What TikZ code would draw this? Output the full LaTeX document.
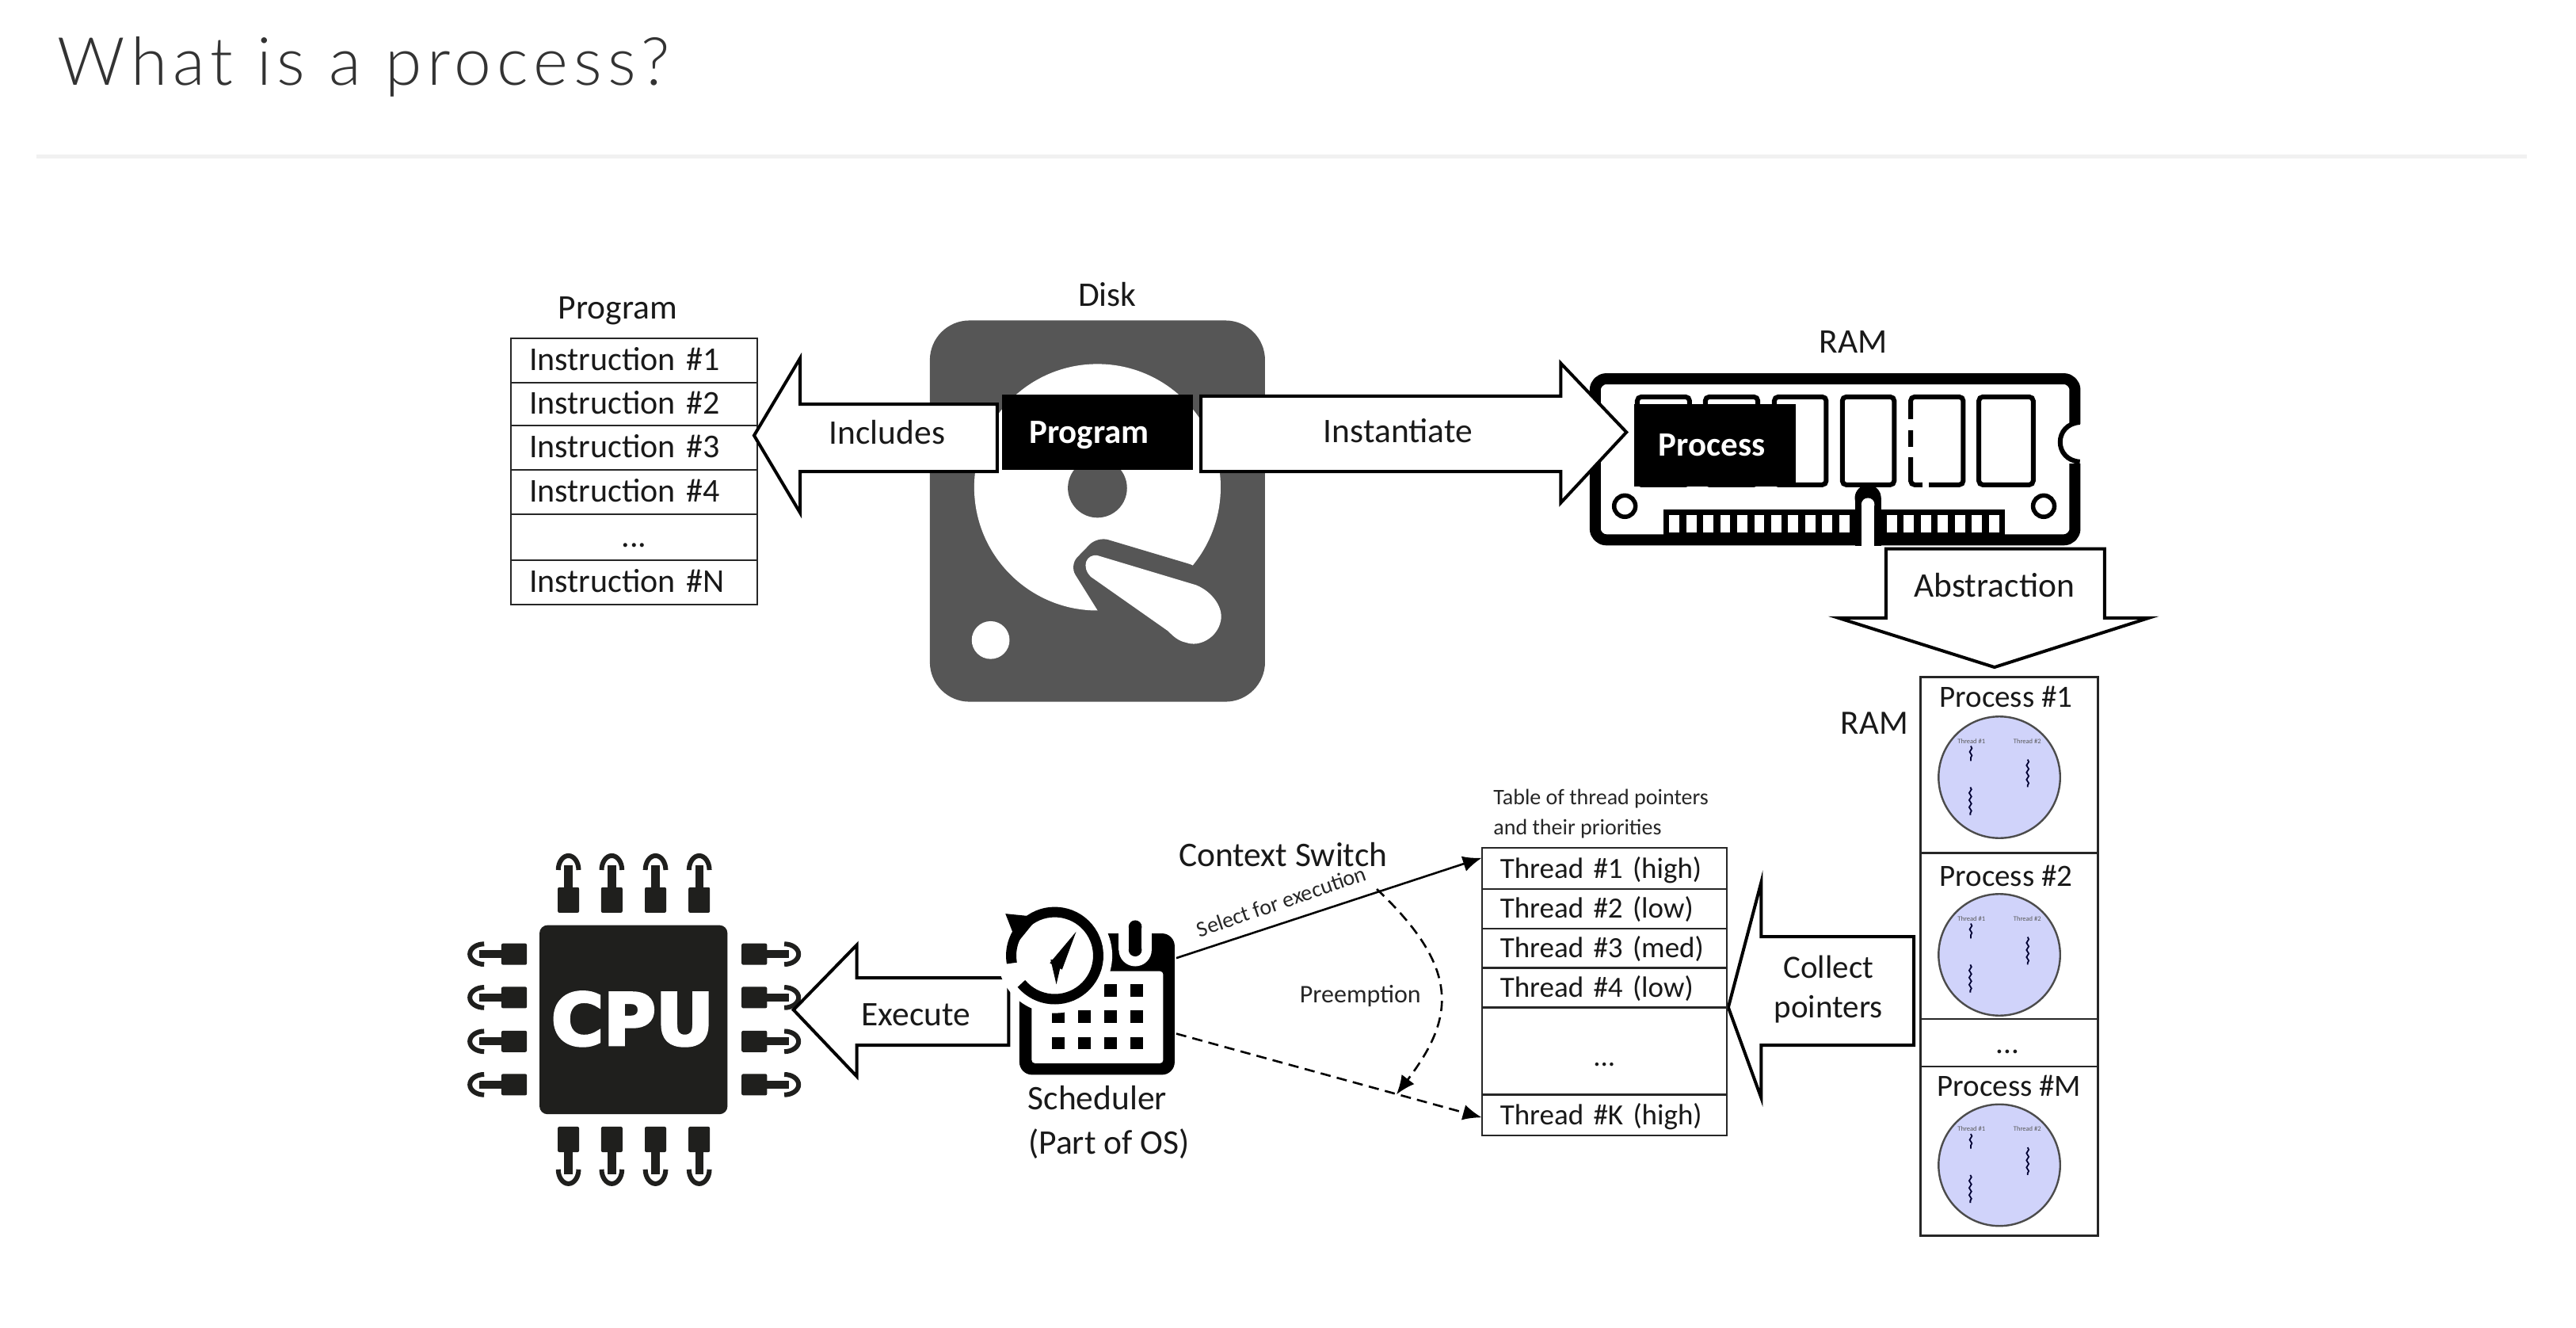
\documentclass[tikz,border=0pt]{standalone}
\usepackage{fontspec}
\usetikzlibrary{arrows.meta,decorations.pathmorphing}
\setmainfont{Carlito}
\newfontfamily\titlefont[LetterSpace=8.4]{Lato Light}
\newfontfamily\cpufont[BoldFeatures={FakeBold=4}]{DejaVu Sans}
\definecolor{diskgrey}{HTML}{565656}
\definecolor{cpub}{HTML}{1F1F1D}
\definecolor{circfill}{HTML}{D0D3FA}
\definecolor{rulegrey}{HTML}{F1F1F1}
\newcommand{\rowbox}[7]{%
  \pgfmathsetmacro{\rw}{(#4-#2)*2.074}\pgfmathsetmacro{\rh}{(#5-#3)*2.074}%
  \pgfmathsetmacro{\rt}{\rw-46}%
  \node[rowstyle,minimum height=\rh pt,text width=\rt pt,font=\fontsize{#7}{44}\selectfont] (#1) at ({(#2+#4)/2},{(#3+#5)/2}) {\mbox{#6}};}
\tikzset{
  x=2.074pt,y=-2.074pt,
  lab/.style={font=\fontsize{43.5}{50}\selectfont,text=black!90,inner sep=0pt},
  plab/.style={font=\fontsize{39}{46}\selectfont,text=black!90,inner sep=0pt},
  rowstyle/.style={draw=black!85,line width=2.4pt,inner xsep=23pt,inner ysep=0pt,outer sep=0pt,align=left,text height=29pt,text depth=5pt,text=black!90},
  blockarrow/.style={draw=black,line width=4pt,fill=white,miter limit=10},
  wlab/.style={font=\fontsize{43}{50}\selectfont\bfseries,text=white,inner sep=0pt},
  tinylab/.style={font=\fontsize{8.5}{9}\selectfont,text=black!65,inner sep=0pt},
  squig/.style={draw=black!80!blue,line width=1.8pt,decorate,decoration={snake,amplitude=1.4pt,segment length=9pt}},
  cpupin/.pic={
    \fill[cpub,rounded corners=2pt] (-6.5,0) rectangle (6.5,-15.5);
    \fill[cpub] (-2.5,-15) rectangle (2.5,-29);
    \draw[cpub,line width=6pt] (-6.2,-26) arc[start angle=180,end angle=360,x radius=6.2,y radius=8.7];
  },
  procring/.pic={
    \draw[black!70,fill=circfill,line width=2.4pt] (0,0) circle[radius=37];
    \node[tinylab] at (-17,-22) {Thread \#1};
    \node[tinylab] at (17,-22) {Thread \#2};
    \draw[squig] (-17.4,-19) -- (-17.4,-10);
    \draw[squig] (17.2,-10.8) -- (17.2,6);
    \draw[squig] (-17.7,6) -- (-17.7,23);
  }
}
\begin{document}
\begin{tikzpicture}
\useasboundingbox (0,0) rectangle (1568,808);
\fill[white] (0,0) rectangle (1568,808);
% title
\node[anchor=base west,inner sep=0pt,font=\fontsize{84}{100}\titlefont,text=black!80] (title) at (35,52) {What is a process?};
\draw[rulegrey,line width=5pt] (22,95) -- (1538,95);

% program table
\node[lab] (proglab) at (376,189) {Program};
\rowbox{i1}{311}{206}{461}{233}{Instruction \#1}{42}
\rowbox{i2}{311}{233}{461}{259}{Instruction \#2}{42}
\rowbox{i3}{311}{259}{461}{286}{Instruction \#3}{42}
\rowbox{i4}{311}{286}{461}{313}{Instruction \#4}{42}
\node[rowstyle,font=\fontsize{42}{44}\selectfont,minimum width=311pt,minimum height=58pt,text width=265pt,align=center] (i5) at (386,327) {...};
\rowbox{i6}{311}{341}{461}{368}{Instruction \#N}{42}

% disk
\node[lab] (disklab) at (674,179) {Disk};
\fill[diskgrey,rounded corners=50pt] (566,195) rectangle (770,427);
\fill[white] (668,296.5) circle[radius=75];
\fill[diskgrey] (668,297) circle[radius=18];
\fill[white] (603,389.5) circle[radius=11.5];
\fill[diskgrey,rounded corners=14pt] (671,376) -- (651,344) -- (668,326.5) -- (730,345) -- (765,400) -- (690,400) -- cycle;
\fill[white] (668,338) -- (728,356) .. controls (738,360) and (745,370) .. (743,378) .. controls (741,388) and (730,394) .. (722,391) .. controls (717,390) and (714,387) .. (711,384) -- (664,351) .. controls (658,345) and (661,337) .. (668,338) -- cycle;

% includes arrow
\draw[blockarrow] (607,246) -- (487,246) -- (487,218) -- (459,265) -- (487,312) -- (487,287) -- (607,287) -- cycle;
\node[lab] (includes) at (540,263) {Includes};
\node[fill=black,minimum width=241pt,minimum height=95pt,inner sep=0pt] (progbox) at (668,263) {};
\node[wlab] at (663,265) {Program};

% RAM module
\node[lab] (ramlab) at (1128,208) {RAM};
\begin{scope}
\draw[black,line width=14pt,rounded corners=14pt,join=round] (971,230.5) -- (1263,230.5) -- (1263,328.5) -- (971,328.5) -- cycle;
\fill[white] (1252,258) rectangle (1272,282);
\draw[black,line width=6pt] (1266,257) .. controls (1250,258) and (1250,280) .. (1266,281);
\foreach \xa/\xb in {996.6/1028.4,1038/1070,1080/1111.6,1121.4/1153,1163/1195,1204.5/1237.6}
  \draw[black,line width=6pt,rounded corners=5pt] (\xa,241.5) rectangle (\xb,295);
\fill[white] (1161,255) rectangle (1165,262);
\fill[white] (1161,272) rectangle (1165,278);
\fill[white] (1170,292) rectangle (1174,298);
\draw[black,line width=5.5pt] (989,308) circle[radius=6.5];
\draw[black,line width=5.5pt] (1244,308) circle[radius=6.5];
\fill[black] (1012.5,310) rectangle (1220.5,331);
\fill[black] (1137,303) circle[radius=8];
\fill[black] (1129,303) rectangle (1145,332);
\foreach \i in {0,...,10} \fill[white] ({1016+\i*10.35},313.5) rectangle ({1022.2+\i*10.35},324);
\foreach \i in {0,...,6} \fill[white] ({1148.5+\i*10.35},313.5) rectangle ({1154.7+\i*10.35},324);
\fill[white] (1133,307) rectangle (1141,336);
\fill[white] (1137,307) circle[radius=4];
\end{scope}
% instantiate arrow
\draw[blockarrow] (731,241) -- (950,241) -- (950,221) -- (990,263) -- (950,306) -- (950,287) -- (731,287) -- cycle;
\node[lab] (inst) at (851,262) {Instantiate};
\node[fill=black,minimum width=204pt,minimum height=104pt,inner sep=0pt] (procbox) at (1044,271) {};
\node[wlab] at (1042,271) {Process};

% abstraction arrow
\draw[blockarrow] (1148,334) -- (1281,334) -- (1281,376) -- (1308,376) -- (1214,406) -- (1119,376) -- (1148,376) -- cycle;
\node[lab] (abstr) at (1214,356) {Abstraction};

% process table
\node[plab,font=\fontsize{43}{50}\selectfont] (ram2) at (1141,440) {RAM};
\node[draw=black!85,line width=2.4pt,minimum width=224pt,minimum height=705pt,inner sep=0pt] (ptab) at (1223,582) {};
\draw[black!85,line width=2.4pt] (1169,519) -- (1277,519);
\draw[black!85,line width=2.4pt] (1169,620) -- (1277,620);
\draw[black!85,line width=2.4pt] (1169,649) -- (1277,649);
\node[plab] at (1221,424) {Process \#1};
\node[plab] at (1221,533) {Process \#2};
\node[plab] at (1222,640) {...};
\node[plab] at (1223,661) {Process \#M};
\pic at (1217,473) {procring};
\pic at (1217,581) {procring};
\pic at (1217,709) {procring};

% collect arrow
\draw[blockarrow] (1165,570) -- (1072,570) -- (1072,537) -- (1052,613) -- (1072,668) -- (1072,636) -- (1165,636) -- cycle;
\node[lab,font=\fontsize{41}{46}\selectfont,align=center] (collect) at (1113,602) {Collect\\[4pt]pointers};

% thread table
\node[anchor=west,align=left,inner sep=0pt,font=\fontsize{28}{38}\selectfont,text=black!85] (ttitle) at (909,495) {Table of thread pointers\\and their priorities};
\rowbox{t1}{902}{516}{1051}{541}{Thread \#1 (high)}{37}
\rowbox{t2}{902}{541}{1051}{565}{Thread \#2 (low)}{37}
\rowbox{t3}{902}{565}{1051}{589}{Thread \#3 (med)}{37}
\rowbox{t4}{902}{589}{1051}{613}{Thread \#4 (low)}{37}
\node[rowstyle,font=\fontsize{37}{44}\selectfont,minimum width=309pt,minimum height=110pt,text width=263pt,align=center] (t5) at (976.5,639.5) {\raisebox{-7pt}{...}};
\rowbox{tk}{902}{666}{1051}{691}{Thread \#K (high)}{37}

% connectors
\coordinate (s1) at (716,583);
\coordinate (s2) at (716,629);
\coordinate (e1) at (902,522);
\coordinate (e2) at (902,680);
\coordinate (p1) at (838,541);
\coordinate (p2) at (850,666);
\draw[black,line width=2.6pt,-{Latex[length=24pt,width=20pt]}] (s1) -- (e1);
\draw[black,line width=2.6pt,dash pattern=on 13pt off 8pt,-{Latex[length=24pt,width=20pt]}] (s2) -- (e2);
\draw[black,line width=2.6pt,dash pattern=on 13pt off 8pt,-{Latex[length=24pt,width=20pt]}] (p1) .. controls (890,590) and (885,620) .. (p2);
\node[lab] (ctx) at (781,520) {Context Switch};
\node[inner sep=0pt,rotate=19,font=\fontsize{28}{30}\selectfont,text=black!85] (sel) at (780,548.5) {Select for execution};
\node[inner sep=0pt,font=\fontsize{32}{34}\selectfont,text=black!85] (pre) at (828,606) {Preemption};

% CPU
\fill[cpub,rounded corners=10pt] (328.4,563) rectangle (442.8,678);
\node[inner sep=0pt,font=\fontsize{90}{90}\cpufont\bfseries,text=white] (cpu) at (385,620) {CPU};
\foreach \x in {346,372.4,399,425.6} {
  \pic at (\x,555.4) {cpupin};
  \pic[rotate=180] at (\x,685.6) {cpupin};
}
\foreach \y in {580.6,607,633.7,660} {
  \pic[rotate=90] at (320.7,\y) {cpupin};
  \pic[rotate=-90] at (451.4,\y) {cpupin};
}

% execute arrow
\draw[blockarrow] (614,595) -- (521.5,595) -- (521.5,575) -- (483,614.5) -- (521.5,655) -- (521.5,636) -- (614,636) -- cycle;
\node[lab] (exec) at (557.5,617.7) {Execute};

% scheduler icon
\fill[black,rounded corners=16pt] (620.5,568) rectangle (715,654);
\fill[white,rounded corners=4pt] (628,591) rectangle (708,647);
\foreach \x/\y in {676/602.8,692/602.8,644.2/618.7,660/618.7,676/618.7,692/618.7,644.2/634.8,660/634.8,676/634.8,692/634.8}
  \fill[black] (\x-3.8,\y-3.8) rectangle (\x+3.8,\y+3.8);
\fill[white] (681,558) rectangle (701,578);
\fill[white] (691,578) circle[radius=10];
\fill[black] (691,564) circle[radius=4];
\fill[black] (691,578) circle[radius=4];
\fill[black] (687,564) rectangle (695,578);
\fill[white] (642,581.5) circle[radius=35];
\draw[black,line width=13pt] (642,581.5) ++(140:26.5) arc[start angle=140,end angle=-190,radius=26.5];
\fill[black] (612,556) -- (632,558) -- (619,574) -- cycle;
\fill[black] (655,567) -- (646.5,590) -- (639,586) -- cycle;
\fill[black] (639.5,584) -- (646.5,584) -- (643,599) -- cycle;

\node[lab] (sch1) at (668,668) {Scheduler};
\node[lab] (sch2) at (675,696) {(Part of OS)};
\end{tikzpicture}
\end{document}
